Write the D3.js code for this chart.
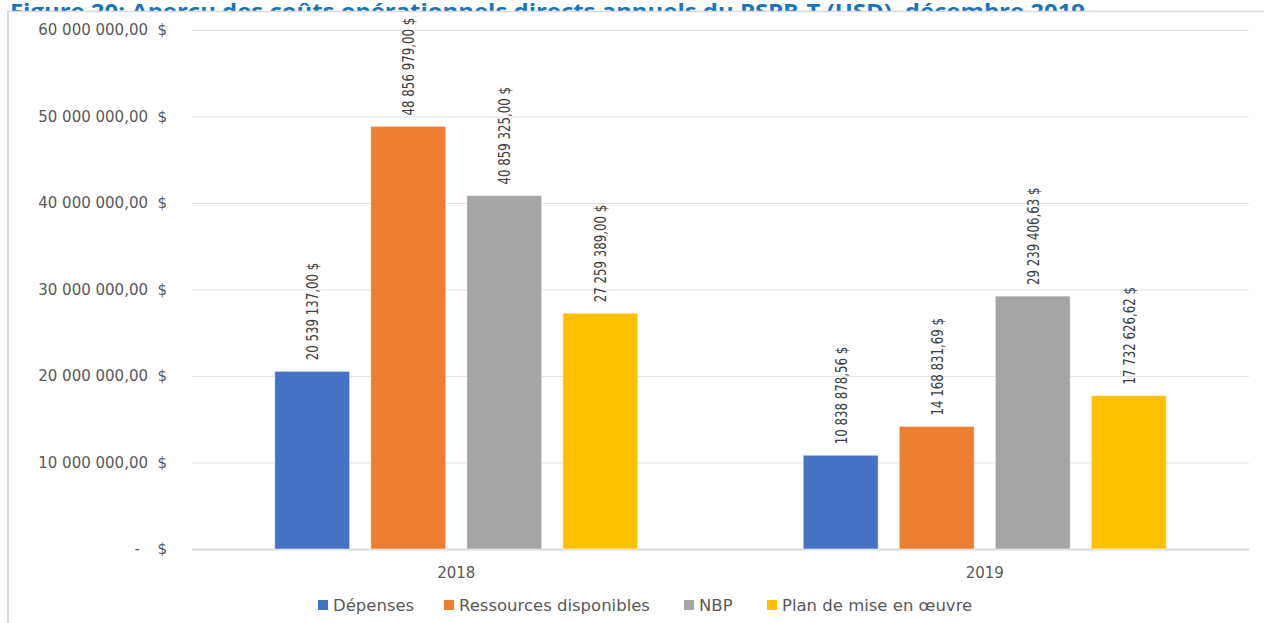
<!DOCTYPE html>
<html lang="fr">
<head>
  <meta charset="UTF-8">
  <title>Figure 20</title>
  <style>
    body { margin: 0; background: #fff; }
    svg { display: block; }
    .lbl { font-family: "DejaVu Sans", sans-serif; fill: #595959; }
    .val { font-family: "Liberation Sans Narrow", "DejaVu Sans Condensed", sans-serif; fill: #404040; }
  </style>
</head>
<body>
  <script src="https://d3js.org/d3.v7.min.js"></script>
  <svg id="chart" width="1264" height="623"></svg>
  <script>
    // données
    const years = ['2018', '2019']
    const series = ['Dépenses', 'Ressources disponibles', 'NBP', 'Plan de mise en œuvre']
    const colors = ['#4472C4', '#ED7D31', '#A5A5A5', '#FFC000']
    const values2018 = [20539137.00, 48856979.00, 40859325.00, 27259389.00]
    const values2019 = [10838878.56, 14168831.69, 29239406.63, 17732626.62]
    const yTicks = [0, 10000000, 20000000, 30000000, 40000000, 50000000, 60000000]

    const rows = [values2018, values2019]

    const fr = d3.formatLocale({ decimal: ',', thousands: '\u00a0', grouping: [3], currency: ['', ' $'] })
    const fmt = fr.format(',.2f')

    const svg = d3.select('#chart')

    // titre (coupé par le cadre du graphique)
    svg.append('text')
      .attr('x', 10).attr('y', 19)
      .attr('textLength', 1075).attr('lengthAdjust', 'spacingAndGlyphs')
      .style('font-family', '"Open Sans", sans-serif')
      .style('font-weight', 'bold').style('font-size', '22px')
      .style('fill', '#1874BD')
      .text('Figure 20: Aperçu des coûts opérationnels directs annuels du PSPR-T (USD), décembre 2019')
    svg.append('rect').attr('x', 8).attr('y', 12).attr('width', 1256).attr('height', 611).attr('fill', '#fff')
    svg.append('line').attr('x1', 7).attr('x2', 1264).attr('y1', 11.5).attr('y2', 11.5)
      .attr('stroke', '#d9d9d9').attr('stroke-width', 1.5)
    svg.append('line').attr('x1', 8).attr('x2', 8).attr('y1', 11).attr('y2', 623)
      .attr('stroke', '#d9d9d9').attr('stroke-width', 2)

    const pLeft = 192, pRight = 1249, pTop = 30, pBottom = 549
    const groupW = 363

    const y = d3.scaleLinear().domain([0, 60000000]).range([pBottom, pTop])
    const x0 = d3.scaleBand().domain(years).range([pLeft, pRight])
    const x1 = d3.scaleBand().domain(series).range([0, groupW]).paddingInner(0.22)

    // grille
    svg.append('g').selectAll('line').data(yTicks).join('line')
      .attr('x1', pLeft).attr('x2', pRight)
      .attr('y1', d => y(d) + 0.5).attr('y2', d => y(d) + 0.5)
      .attr('stroke', d => d === 0 ? '#d9d9d9' : '#e3e3e3')
      .attr('stroke-width', d => d === 0 ? 2 : 1.2)

    // étiquettes de l'axe Y : nombre + symbole $
    const yl = svg.append('g').selectAll('g').data(yTicks).join('g')
      .attr('transform', d => `translate(0,${y(d) + 5})`)
    yl.append('text').attr('class', 'lbl')
      .attr('x', d => d === 0 ? 140 : 148)
      .attr('text-anchor', 'end')
      .style('font-size', '15px')
      .text(d => d === 0 ? '-' : fmt(d))
    yl.append('text').attr('class', 'lbl')
      .attr('x', 167)
      .attr('text-anchor', 'end')
      .style('font-size', '15px')
      .text('$')

    // barres
    const groups = svg.append('g').selectAll('g').data(years).join('g')
      .attr('transform', d => `translate(${x0(d) + (x0.bandwidth() - groupW) / 2},0)`)

    const cells = groups.selectAll('g')
      .data((d, i) => series.map((s, j) => ({ s, j, v: rows[i][j] })))
      .join('g')

    cells.append('rect')
      .attr('x', d => x1(d.s))
      .attr('y', d => y(d.v))
      .attr('width', x1.bandwidth())
      .attr('height', d => pBottom - y(d.v))
      .attr('fill', d => colors[d.j])
      .attr('stroke', '#fff').attr('stroke-opacity', 0.5).attr('stroke-width', 1)

    // étiquettes de valeur, police étroite et haute
    cells.append('text')
      .attr('class', 'val')
      .attr('transform', d => `translate(${x1(d.s) + x1.bandwidth() / 2 + 6},${y(d.v) - 11}) rotate(-90) scale(0.82,1)`)
      .style('font-size', '16px')
      .text(d => fmt(d.v) + ' $')

    // axe X
    svg.append('g').selectAll('text').data(years).join('text')
      .attr('class', 'lbl')
      .attr('x', d => x0(d) + x0.bandwidth() / 2)
      .attr('y', 578)
      .attr('text-anchor', 'middle')
      .style('font-size', '15px')
      .text(d => d)

    // légende
    const legX = [318, 444, 684, 767]
    const leg = svg.append('g').selectAll('g').data(series).join('g')
      .attr('transform', (d, i) => `translate(${legX[i]},605)`)
    leg.append('rect').attr('x', 0).attr('y', -5).attr('width', 10).attr('height', 10)
      .attr('fill', (d, i) => colors[i])
    leg.append('text').attr('class', 'lbl')
      .attr('transform', 'translate(15,5.5) scale(1.1,1)')
      .style('font-size', '15px')
      .text(d => d)
  </script>
</body>
</html>
